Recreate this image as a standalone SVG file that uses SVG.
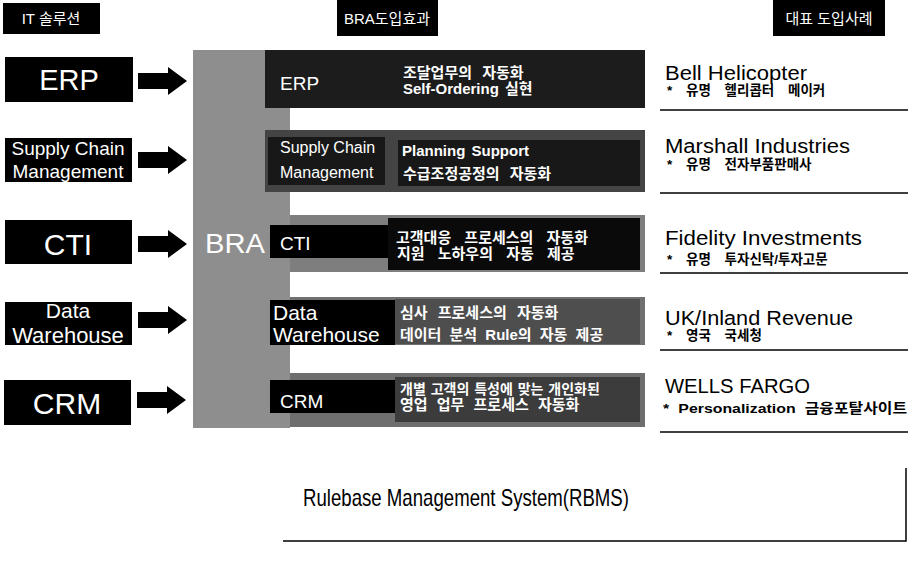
<svg xmlns="http://www.w3.org/2000/svg" xmlns:xlink="http://www.w3.org/1999/xlink" width="912" height="562" viewBox="0 0 912 562">
<style>
.blk{fill:#000}
.hdrt{font-family:"Liberation Sans","Noto Sans CJK KR",sans-serif;font-size:15px;fill:#fff;text-anchor:middle}
.boxt{font-family:"Liberation Sans",Arial,sans-serif;fill:#fff;text-anchor:middle}
.lbl{font-family:"Liberation Sans",Arial,sans-serif;fill:#fff}
.desc{font-family:"Liberation Sans","Noto Sans CJK KR",sans-serif;font-weight:bold;font-size:15px;fill:#fff;word-spacing:6px}
.name{font-family:"Liberation Sans",Arial,sans-serif;font-size:20px;fill:#000}
.sub{font-family:"Liberation Sans","Noto Sans CJK KR",sans-serif;font-weight:bold;font-size:13.5px;fill:#000;word-spacing:10px}
.sep{stroke:#000;stroke-width:1.5;fill:none}
.rbms{font-family:"Liberation Sans",Arial,sans-serif;font-size:24px;fill:#000}
</style>
<defs>
<path id="arrow" d="M0,-8 H30 V-14 L49,0 L30,14 V8 H0 Z" fill="#000"/>
</defs>

<g id="header-it"><rect class="blk" x="3" y="3" width="97" height="31"/><text class="hdrt" x="51" y="24">IT 솔루션</text></g>
<g id="header-bra"><rect class="blk" x="337" y="0" width="101" height="36"/><text class="hdrt" x="387" y="24">BRA도입효과</text></g>
<g id="header-case"><rect class="blk" x="773" y="0" width="112" height="36"/><text class="hdrt" x="829" y="24">대표 도입사례</text></g>

<g id="it-erp"><rect class="blk" x="5" y="57" width="128" height="45"/><text class="boxt" x="69" y="90" font-size="29">ERP</text></g>
<g id="it-scm"><rect class="blk" x="5" y="138" width="127" height="44"/><text class="boxt" x="68" y="155" font-size="19">Supply Chain</text><text class="boxt" x="68" y="178" font-size="19">Management</text></g>
<g id="it-cti"><rect class="blk" x="5" y="220" width="127" height="44"/><text class="boxt" x="68" y="255" font-size="30">CTI</text></g>
<g id="it-dw"><rect class="blk" x="5" y="302" width="127" height="43"/><text class="boxt" x="68" y="318" font-size="21">Data</text><text class="boxt" x="68" y="343" font-size="22">Warehouse</text></g>
<g id="it-crm"><rect class="blk" x="4" y="380" width="127" height="45"/><text class="boxt" x="67" y="414" font-size="30">CRM</text></g>

<g id="connectors">
<use xlink:href="#arrow" x="138" y="81"/>
<use xlink:href="#arrow" x="138" y="160"/>
<use xlink:href="#arrow" x="138" y="244"/>
<use xlink:href="#arrow" x="138" y="320"/>
<use xlink:href="#arrow" x="137" y="400"/>
</g>

<g id="bra">
<rect x="193" y="50" width="97" height="378" fill="#8e8e8e"/>
<rect x="265" y="50" width="380" height="58" fill="#1c1c1c"/>
<rect x="265" y="130" width="380" height="62" fill="#444"/>
<rect x="268" y="137" width="117" height="48" fill="#181818"/>
<rect x="398" y="140" width="242" height="46" fill="#181818"/>
<rect x="290" y="215" width="355" height="57" fill="#7e7e7e"/>
<rect class="blk" x="270" y="225" width="118" height="33"/>
<rect x="388" y="218" width="252" height="52" fill="#0a0a0a"/>
<rect x="290" y="297" width="355" height="48" fill="#707070"/>
<rect class="blk" x="270" y="300" width="125" height="45"/>
<rect x="395" y="299" width="245" height="45" fill="#4e4e4e"/>
<rect x="290" y="373" width="355" height="54" fill="#6e6e6e"/>
<rect class="blk" x="270" y="380" width="125" height="33"/>
<rect x="395" y="377" width="245" height="45" fill="#3c3c3c"/>
<text class="lbl" x="205" y="253" font-size="27" textLength="60" lengthAdjust="spacingAndGlyphs">BRA</text>
</g>

<g id="bra-erp"><text class="lbl" x="280" y="90" font-size="19">ERP</text><text class="desc" x="403" y="78">조달업무의 자동화</text><text class="desc" x="403" y="94" style="word-spacing:2px">Self-Ordering 실현</text></g>
<g id="bra-scm"><text class="lbl" x="280" y="153" font-size="16">Supply Chain</text><text class="lbl" x="280" y="178" font-size="16">Management</text><text class="desc" x="402" y="156" style="word-spacing:2px">Planning Support</text><text class="desc" x="403" y="179">수급조정공정의 자동화</text></g>
<g id="bra-cti"><text class="lbl" x="280" y="250" font-size="19">CTI</text><text class="desc" x="396" y="243" style="word-spacing:9px">고객대응 프로세스의 자동화</text><text class="desc" x="397" y="259" style="word-spacing:9px">지원 노하우의 자동 제공</text></g>
<g id="bra-dw"><text class="lbl" x="273" y="320" font-size="21">Data</text><text class="lbl" x="273" y="342" font-size="21">Warehouse</text><text class="desc" x="400" y="318">심사 프로세스의 자동화</text><text class="desc" x="400" y="340" style="word-spacing:4px">데이터 분석 Rule의 자동 제공</text></g>
<g id="bra-crm"><text class="lbl" x="280" y="408" font-size="19">CRM</text><text class="desc" x="400" y="394" style="font-size:14px;word-spacing:1px">개별 고객의 특성에 맞는 개인화된</text><text class="desc" x="400" y="410" style="word-spacing:5px">영업 업무 프로세스 자동화</text></g>

<g id="case-bell"><text class="name" x="665" y="80" textLength="142" lengthAdjust="spacingAndGlyphs">Bell Helicopter</text><text class="sub" x="667" y="95">* 유명 헬리콥터 메이커</text><line class="sep" x1="660" y1="110" x2="908" y2="110"/></g>
<g id="case-marshall"><text class="name" x="665" y="153" textLength="185" lengthAdjust="spacingAndGlyphs">Marshall Industries</text><text class="sub" x="667" y="169">* 유명 전자부품판매사</text><line class="sep" x1="660" y1="193" x2="908" y2="193"/></g>
<g id="case-fidelity"><text class="name" x="665" y="245" textLength="197" lengthAdjust="spacingAndGlyphs">Fidelity Investments</text><text class="sub" x="667" y="264">* 유명 투자신탁/투자고문</text><line class="sep" x1="660" y1="273" x2="908" y2="273"/></g>
<g id="case-uk"><text class="name" x="665" y="325" textLength="188" lengthAdjust="spacingAndGlyphs">UK/Inland Revenue</text><text class="sub" x="667" y="340">* 영국 국세청</text><line class="sep" x1="660" y1="350" x2="908" y2="350"/></g>
<g id="case-wells"><text class="name" x="665" y="393" textLength="145" lengthAdjust="spacingAndGlyphs">WELLS FARGO</text><text class="sub" x="663" y="413" style="word-spacing:4px" textLength="244" lengthAdjust="spacingAndGlyphs">* Personalization 금융포탈사이트</text><line class="sep" x1="660" y1="432" x2="908" y2="432"/></g>

<g id="rbms"><text class="rbms" x="303" y="506" textLength="326" lengthAdjust="spacingAndGlyphs">Rulebase Management System(RBMS)</text><polyline class="sep" points="283,541 906,541 906,468"/></g>
</svg>
